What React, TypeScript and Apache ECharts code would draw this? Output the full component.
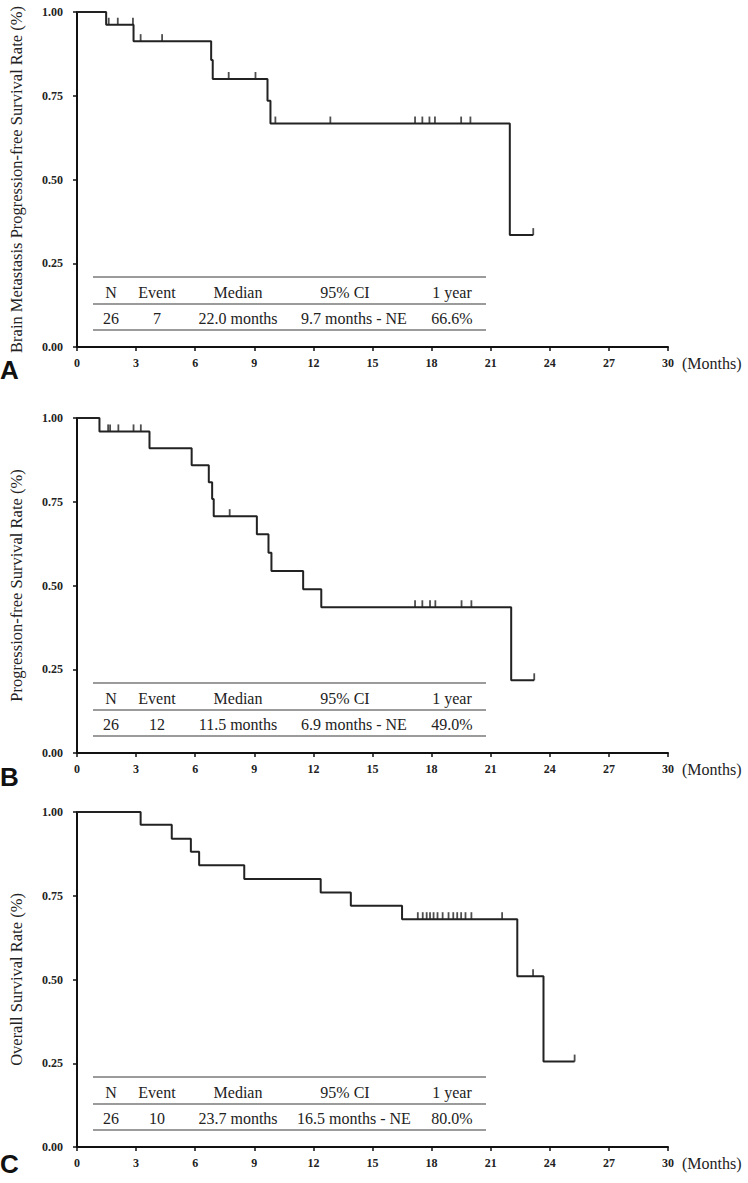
import React, { useEffect, useRef } from "react";
import * as echarts from "echarts";

// ---------- Data ----------
const monthRange = [0, 30];
const monthStep = 3;

// Panel A: Brain metastasis PFS
const eventTimesA = [1.48, 2.87, 6.81, 6.89, 9.67, 9.82, 21.97];
const survivalA = [0.962, 0.913, 0.857, 0.8, 0.735, 0.667, 0.334];
const censorTimesA = [1.61, 2.07, 2.84, 3.23, 4.32, 7.7, 9.06, 10.07, 12.86, 17.16, 17.53, 17.89, 18.17, 19.5, 19.97, 23.16];

// Panel B: PFS
const eventTimesB = [1.14, 3.68, 5.82, 6.69, 6.86, 6.94, 9.13, 9.72, 9.87, 11.48, 12.4, 22.04];
const survivalB = [0.96, 0.91, 0.859, 0.808, 0.758, 0.707, 0.653, 0.598, 0.543, 0.489, 0.435, 0.217];
const censorTimesB = [1.58, 1.68, 2.1, 2.87, 3.24, 7.75, 17.16, 17.53, 17.92, 18.19, 19.52, 20.02, 23.21];

// Panel C: OS
const eventTimesC = [3.23, 4.81, 5.78, 6.2, 8.49, 12.37, 13.9, 16.5, 22.35, 23.68];
const survivalC = [0.962, 0.92, 0.881, 0.841, 0.8, 0.76, 0.72, 0.68, 0.51, 0.255];
const censorTimesC = [17.3, 17.55, 17.75, 17.92, 18.1, 18.3, 18.56, 18.86, 19.1, 19.3, 19.5, 19.72, 20.02, 21.58, 23.15, 25.26];

const axisTitles = [
  "Brain Metastasis Progression-free Survival Rate (%)",
  "Progression-free Survival Rate (%)",
  "Overall Survival Rate (%)",
];
const panelLetters = ["A", "B", "C"];
const tableHeader = ["N", "Event", "Median", "95% CI", "1 year"];
const tableRowA = ["26", "7", "22.0 months", "9.7 months - NE", "66.6%"];
const tableRowB = ["26", "12", "11.5 months", "6.9 months - NE", "49.0%"];
const tableRowC = ["26", "10", "23.7 months", "16.5 months - NE", "80.0%"];
const xUnitLabel = "(Months)";

// ---------- helpers ----------
function survivalAt(times: number[], values: number[], t: number) {
  let s = 1;
  for (let i = 0; i < times.length; i++) if (times[i] <= t) s = values[i];
  return s;
}
function curveData(times: number[], values: number[], censors: number[]) {
  const pts: number[][] = [[0, 1]];
  times.forEach((t, i) => pts.push([t, values[i]]));
  const end = Math.max(times[times.length - 1], ...censors);
  pts.push([end, values[values.length - 1]]);
  return pts;
}
function censorData(times: number[], values: number[], censors: number[]) {
  return censors.map((t) => [t, survivalAt(times, values, t)]);
}

const SERIF = '"Liberation Serif", "Times New Roman", serif';
const INK = "#222";

export default function App() {
  const ref = useRef<HTMLDivElement>(null);
  useEffect(() => {
    if (!ref.current) return;
    const chart = echarts.init(ref.current, null, { renderer: "svg" });
    const gridTops = [12, 418, 812];
    const gridH = 335;
    const left = 73;
    const width = 595;
    const panels = [
      { t: eventTimesA, v: survivalA, c: censorTimesA, row: tableRowA },
      { t: eventTimesB, v: survivalB, c: censorTimesB, row: tableRowB },
      { t: eventTimesC, v: survivalC, c: censorTimesC, row: tableRowC },
    ];
    const letterTops = [357, 764, 1151];
    const headerX = [111, 157, 238, 345, 452];
    const dataX = [111, 157, 238, 354, 452];

    const graphics: any[] = [];
    panels.forEach((p, i) => {
      const y0 = gridTops[i] + gridH;
      [70, 43, 17].forEach((d) =>
        graphics.push({
          type: "line",
          shape: { x1: 93, y1: y0 - d, x2: 486, y2: y0 - d },
          style: { stroke: "#7a7a7a", lineWidth: 1.5 },
        })
      );
      tableHeader.forEach((h, k) =>
        graphics.push({
          type: "text",
          style: {
            text: h, x: headerX[k], y: y0 - 55, fill: INK,
            font: `16px ${SERIF}`, textAlign: "center", textVerticalAlign: "middle",
          },
        })
      );
      p.row.forEach((h, k) =>
        graphics.push({
          type: "text",
          style: {
            text: h, x: dataX[k], y: y0 - 29, fill: INK,
            font: `16px ${SERIF}`, textAlign: "center", textVerticalAlign: "middle",
          },
        })
      );
      graphics.push({
        type: "text",
        style: {
          text: xUnitLabel, x: 682, y: y0 + 16, fill: INK,
          font: `16px ${SERIF}`, textAlign: "left", textVerticalAlign: "middle",
        },
      });
      graphics.push({
        type: "text",
        style: {
          text: panelLetters[i], x: 0, y: letterTops[i], fill: "#111",
          font: `bold 26px "Liberation Sans", Arial, sans-serif`, textAlign: "left", textVerticalAlign: "top",
        },
      });
    });

    const option: any = {
      animation: false,
      backgroundColor: "#fff",
      grid: gridTops.map((top) => ({ left, top, width, height: gridH })),
      xAxis: gridTops.map((_, i) => ({
        type: "value", gridIndex: i, min: monthRange[0], max: monthRange[1], interval: monthStep,
        axisLine: { show: true, onZero: false, lineStyle: { color: "#111", width: 2 } },
        axisTick: { show: true, length: 4, lineStyle: { color: "#111", width: 1.5 } },
        axisLabel: { margin: 10, color: INK, fontFamily: SERIF, fontWeight: "bold", fontSize: 12 },
        splitLine: { show: false },
      })),
      yAxis: gridTops.map((_, i) => ({
        type: "value", gridIndex: i, min: 0, max: 1, interval: 0.25,
        name: axisTitles[i], nameLocation: "middle", nameGap: 52,
        nameTextStyle: { fontFamily: SERIF, fontSize: 16.5, color: INK },
        axisLine: { show: true, lineStyle: { color: "#111", width: 2 } },
        axisTick: { show: true, length: 4, lineStyle: { color: "#111", width: 1.5 } },
        axisLabel: {
          margin: 14, color: INK, fontFamily: SERIF, fontWeight: "bold", fontSize: 12,
          formatter: (v: number) => v.toFixed(2),
        },
        splitLine: { show: false },
      })),
      series: panels.flatMap((p, i) => [
        {
          type: "line", xAxisIndex: i, yAxisIndex: i, step: "end", symbol: "none",
          data: curveData(p.t, p.v, p.c),
          lineStyle: { color: INK, width: 2 },
        },
        {
          type: "scatter", xAxisIndex: i, yAxisIndex: i, symbol: "rect",
          symbolSize: [1.8, 7], symbolOffset: [0, -3.5],
          itemStyle: { color: INK },
          data: censorData(p.t, p.v, p.c),
        },
      ]),
      graphic: graphics,
    };
    chart.setOption(option);
    return () => chart.dispose();
  }, []);
  return (
    <div
      ref={ref}
      style={{ position: "absolute", left: 0, top: 0, width: 748, height: 1183, background: "#fff" }}
    />
  );
}
